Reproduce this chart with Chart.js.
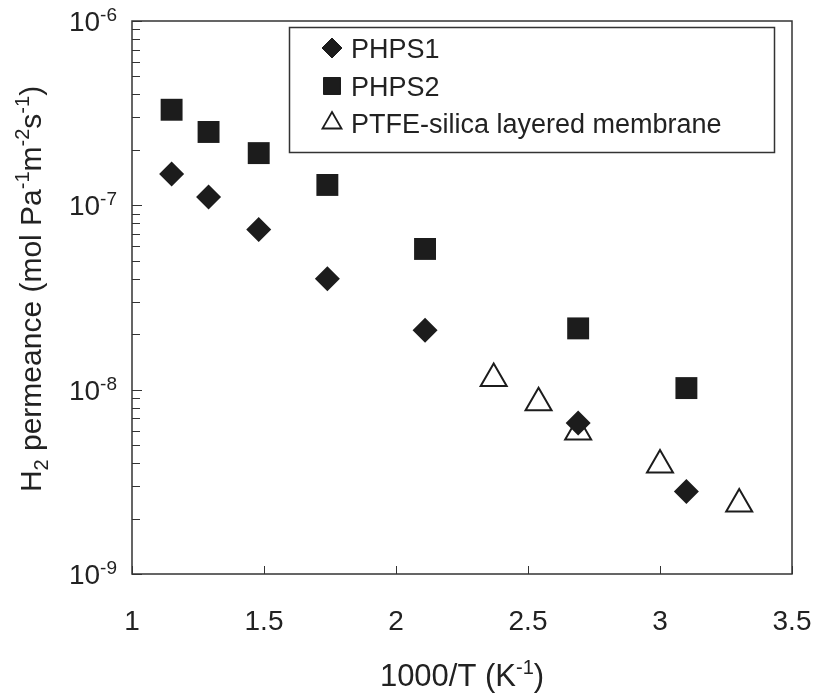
<!DOCTYPE html>
<html>
<head>
<meta charset="utf-8">
<script src="https://cdn.jsdelivr.net/npm/chart.js@4.4.1/dist/chart.umd.min.js"></script>
<style>
  html, body { margin: 0; padding: 0; background: #fff; }
  #wrap { width: 816px; height: 695px; }
</style>
</head>
<body>
<div id="wrap"><canvas id="chart" width="816" height="695"></canvas></div>
<script>
// --- datos ---
const invT_phps = [1.15, 1.29, 1.48, 1.74, 2.11, 2.69, 3.10];
const phps1 = [1.48e-7, 1.11e-7, 7.4e-8, 4.0e-8, 2.1e-8, 6.6e-9, 2.8e-9];
const phps2 = [3.3e-7, 2.5e-7, 1.92e-7, 1.29e-7, 5.8e-8, 2.15e-8, 1.02e-8];
const invT_ptfe = [2.37, 2.54, 2.69, 3.00, 3.30];
const ptfe = [1.15e-8, 8.5e-9, 5.9e-9, 3.9e-9, 2.4e-9];
const seriesNames = ['PHPS1', 'PHPS2', 'PTFE-silica layered membrane'];
const xTickValues = [1, 1.5, 2, 2.5, 3, 3.5];
const yExponents = [-6, -7, -8, -9];

const INK = '#1c1c1c';
const AXIS = '#333';
const FONT = '"Liberation Sans", Arial, sans-serif';

function pts(xs, ys) {
  return xs.map((x, i) => ({ x: x, y: ys[i] }));
}

// texto con sub/superindices: [texto, tamano, desplazamiento]
function richWidth(ctx, segs) {
  let w = 0;
  segs.forEach(s => { ctx.font = s[1] + 'px ' + FONT; w += ctx.measureText(s[0]).width; });
  return w;
}
function drawRich(ctx, segs, x, y) {
  let cx = x;
  segs.forEach(s => {
    ctx.font = s[1] + 'px ' + FONT;
    ctx.fillText(s[0], cx, y + (s[2] || 0));
    cx += ctx.measureText(s[0]).width;
  });
}

const decor = {
  id: 'decor',
  afterDraw(chart) {
    const ctx = chart.ctx;
    const a = chart.chartArea;
    const xs = chart.scales.x, ys = chart.scales.y;
    ctx.save();

    // marco
    ctx.strokeStyle = AXIS;
    ctx.lineWidth = 1.5;
    ctx.strokeRect(a.left, a.top, a.right - a.left, a.bottom - a.top);

    // marcas x hacia dentro
    ctx.lineWidth = 1;
    xTickValues.forEach(v => {
      const px = Math.round(xs.getPixelForValue(v)) + 0.5;
      ctx.beginPath(); ctx.moveTo(px, a.bottom); ctx.lineTo(px, a.bottom - 8); ctx.stroke();
    });

    // marcas y (mayores y menores)
    for (let e = -9; e <= -6; e++) {
      const py = Math.round(ys.getPixelForValue(Math.pow(10, e))) + 0.5;
      ctx.beginPath(); ctx.moveTo(a.left, py); ctx.lineTo(a.left + 10, py); ctx.stroke();
      if (e < -6) {
        for (let m = 2; m <= 9; m++) {
          const my = Math.round(ys.getPixelForValue(m * Math.pow(10, e))) + 0.5;
          ctx.beginPath(); ctx.moveTo(a.left, my); ctx.lineTo(a.left + 8, my); ctx.stroke();
        }
      }
    }

    // etiquetas y: 10^n
    ctx.fillStyle = '#222';
    ctx.textBaseline = 'alphabetic';
    ctx.textAlign = 'left';
    yExponents.forEach(e => {
      const py = ys.getPixelForValue(Math.pow(10, e));
      const segs = [['10', 28, 0], [String(e), 19, -10]];
      const w = richWidth(ctx, segs);
      drawRich(ctx, segs, 117 - w, py + 10);
    });

    // titulo x
    const xt = [['1000/T (K', 31, 0], ['-1', 20, -12], [')', 31, 0]];
    const xw = richWidth(ctx, xt);
    drawRich(ctx, xt, (a.left + a.right) / 2 - xw / 2, 686);

    // titulo y
    const yt = [['H', 30, 0], ['2', 20, 7], [' permeance (mol Pa', 30, 0], ['-1', 20, -12],
                ['m', 30, 0], ['-2', 20, -12], ['s', 30, 0], ['-1', 20, -12], [')', 30, 0]];
    const yw = richWidth(ctx, yt);
    ctx.save();
    ctx.translate(41, 289);
    ctx.rotate(-Math.PI / 2);
    drawRich(ctx, yt, -yw / 2, 0);
    ctx.restore();

    // leyenda
    ctx.lineWidth = 1.5;
    ctx.strokeStyle = AXIS;
    ctx.strokeRect(289.5, 27.5, 485, 125);
    const rows = [48, 86, 123];
    const legendStyles = [
      { pointStyle: 'rectRot', radius: 10, fill: INK },
      { pointStyle: 'rect', radius: 12, fill: INK },
      { pointStyle: 'triangle', radius: 11, fill: '#fff' }
    ];
    legendStyles.forEach((st, i) => {
      ctx.fillStyle = st.fill;
      ctx.strokeStyle = INK;
      ctx.lineWidth = i === 2 ? 1.8 : 1;
      Chart.helpers.drawPoint(ctx, { pointStyle: st.pointStyle, radius: st.radius, borderWidth: ctx.lineWidth, rotation: 0 }, 332, rows[i]);
      ctx.fillStyle = '#222';
      ctx.font = '27px ' + FONT;
      ctx.fillText(seriesNames[i], 351, rows[i] + 10);
    });

    ctx.restore();
  }
};

const ctxEl = document.getElementById('chart');
new Chart(ctxEl, {
  type: 'scatter',
  data: {
    datasets: [
      {
        label: seriesNames[0],
        data: pts(invT_phps, phps1),
        pointStyle: 'rectRot',
        pointRadius: 12.5,
        backgroundColor: INK,
        borderColor: INK,
        borderWidth: 0
      },
      {
        label: seriesNames[1],
        data: pts(invT_phps, phps2),
        pointStyle: 'rect',
        pointRadius: 15.5,
        backgroundColor: INK,
        borderColor: INK,
        borderWidth: 0
      },
      {
        label: seriesNames[2],
        data: pts(invT_ptfe, ptfe),
        pointStyle: 'triangle',
        pointRadius: 15,
        backgroundColor: '#fff',
        borderColor: INK,
        borderWidth: 2
      }
    ]
  },
  options: {
    responsive: false,
    animation: false,
    events: [],
    layout: { padding: { top: 21, right: 24, left: 0, bottom: 0 } },
    plugins: { legend: { display: false }, tooltip: { enabled: false } },
    scales: {
      x: {
        type: 'linear',
        min: 1,
        max: 3.5,
        afterFit(scale) {
          scale.height = 121;
          scale.paddingLeft = 0;
          scale.paddingRight = 0;
        },
        afterBuildTicks(scale) { scale.ticks = xTickValues.map(v => ({ value: v })); },
        grid: { display: false, drawTicks: false },
        border: { display: false },
        ticks: {
          color: '#222',
          font: { family: FONT, size: 28 },
          padding: 31,
          maxRotation: 0,
          callback: v => String(v)
        }
      },
      y: {
        type: 'logarithmic',
        min: 1e-9,
        max: 1e-6,
        afterFit(scale) {
          scale.width = 132;
          scale.paddingTop = 0;
          scale.paddingBottom = 0;
        },
        grid: { display: false, drawTicks: false },
        border: { display: false },
        ticks: { display: false }
      }
    }
  },
  plugins: [decor]
});
</script>
</body>
</html>
